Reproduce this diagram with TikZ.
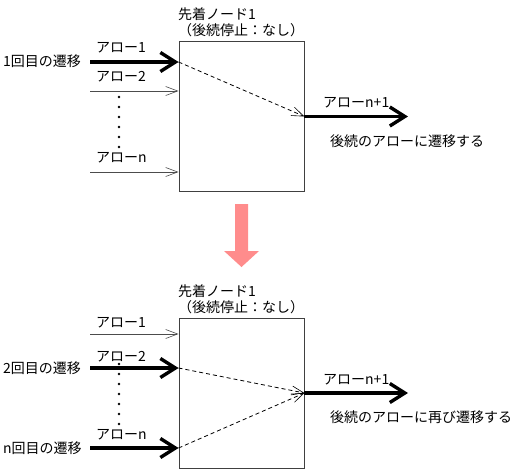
\documentclass[tikz,border=0pt]{standalone}
\usepackage{fontspec}
\usepackage{tikz}
\usetikzlibrary{arrows.meta}
\newfontfamily\jpfont{Noto Sans CJK JP}
\definecolor{stepred}{RGB}{255,140,140}

\tikzset{
	blk/.style={shape=rectangle,draw=black!75,line width=0.9pt,minimum width=125pt,minimum height=150pt,inner sep=0pt},
	lbl/.style={anchor=west,inner sep=0pt,font=\jpfont\fontsize{14}{16}\selectfont},
	thinarr/.style={-{Straight Barb[length=12pt,width=9pt,line width=0.6pt]},line width=0.7pt,color=black!70},
	thickarr/.style={-{Straight Barb[length=15pt,width=19pt,line width=3.4pt]},line width=3.6pt},
	dasharr/.style={-{Straight Barb[length=12pt,width=9pt,line width=0.6pt]},dash pattern=on 4pt off 3pt,line width=0.8pt},
}

\begin{document}
\begin{tikzpicture}[x=1pt,y=-1pt]
	\useasboundingbox (0,0) rectangle (517,472);

	% before
	\node[blk] (n1) at (241.5,116.5) {};
	\coordinate (a1) at (90,62);
	\coordinate (a2) at (90,91);
	\coordinate (an) at (90,172);
	\coordinate (o1) at (408,116.5);

	\node[lbl] (t1) at (178,14)  {先着ノード1};
	\node[lbl] (t2) at (178,30)  {（後続停止：なし）};
	\node[lbl] (l1) at (96,48)   {アロー1};
	\node[lbl] (l2) at (96,77)   {アロー2};
	\node[lbl] (ln) at (96,158)  {アローn};
	\node[lbl] (f1) at (3,61)    {1回目の遷移};
	\node[lbl] (lo) at (323,103) {アローn+1};
	\node[lbl] (r1) at (330,141) {後続のアローに遷移する};

	\path[thickarr] (a1) edge (a1 -| n1.west);
	\path[thinarr]  (a2) edge (a2 -| n1.west);
	\path[thinarr]  (an) edge (an -| n1.west);
	\path[dasharr]  (a1 -| n1.west) edge (n1.east);
	\path[thickarr] (n1.east) edge (o1);
	\foreach \y in {97,107,...,147}
		\fill (119,\y) circle (1.4pt);

	% step arrow
	\fill[stepred] (235,204) -- (248,204) -- (248,251) -- (259,251) -- (241.5,267)
		-- (224,251) -- (235,251) -- cycle;

	% after
	\node[blk] (n2) at (241.5,393) {};
	\coordinate (b1) at (90,334);
	\coordinate (b2) at (90,368);
	\coordinate (bn) at (90,448);
	\coordinate (o2) at (408,393);

	\node[lbl] (s1) at (178,291) {先着ノード1};
	\node[lbl] (s2) at (178,307) {（後続停止：なし）};
	\node[lbl] (m1) at (96,323)  {アロー1};
	\node[lbl] (m2) at (96,357)  {アロー2};
	\node[lbl] (mn) at (96,435)  {アローn};
	\node[lbl] (g2) at (3,368)   {2回目の遷移};
	\node[lbl] (gn) at (3,448)   {n回目の遷移};
	\node[lbl] (mo) at (323,380) {アローn+1};
	\node[lbl] (r2) at (330,417) {後続のアローに再び遷移する};

	\path[thinarr]  (b1) edge (b1 -| n2.west);
	\path[thickarr] (b2) edge (b2 -| n2.west);
	\path[thickarr] (bn) edge (bn -| n2.west);
	\path[dasharr]  (b2 -| n2.west) edge (n2.east);
	\path[dasharr]  (bn -| n2.west) edge (n2.east);
	\path[thickarr] (n2.east) edge (o2);
	\foreach \y in {364,374,...,425}
		\fill (119,\y) circle (1.4pt);
\end{tikzpicture}
\end{document}
